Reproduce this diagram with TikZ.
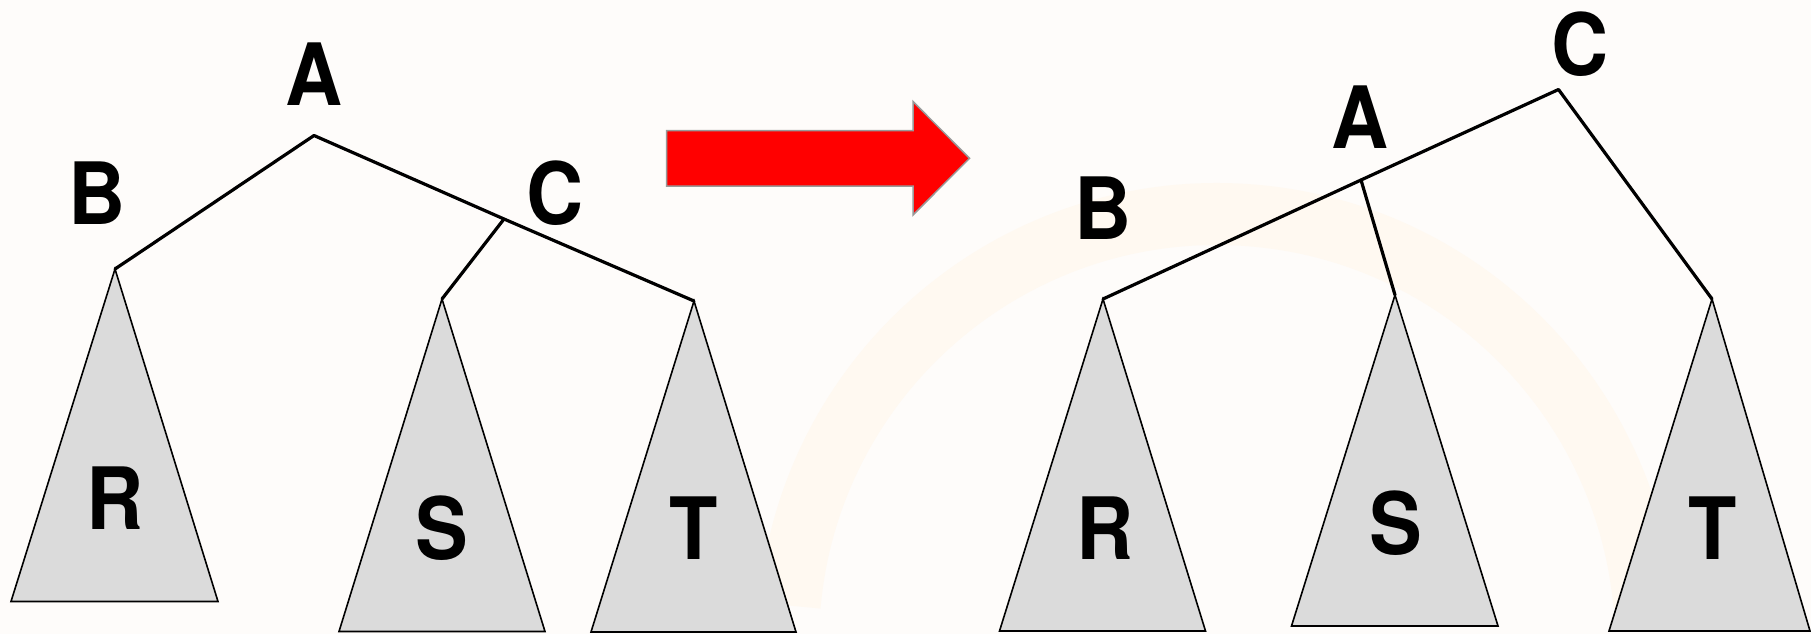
\documentclass[tikz,border=0pt]{standalone}
\usepackage{fontspec}
\setmainfont{Liberation Sans}
\newfontfamily\lblfont[FakeStretch=0.92]{TeX Gyre Heros}
\definecolor{bgc}{HTML}{FEFCFA}
\definecolor{arcc}{HTML}{FFF9F1}
\definecolor{trifill}{HTML}{DBDBDB}
\definecolor{arrowedge}{HTML}{999999}
\begin{document}
\begin{tikzpicture}[x=1pt,y=-1pt,
  lbl/.style={inner sep=0pt, font=\lblfont\fontsize{86}{86}\selectfont\bfseries},
  edge/.style={line width=3.2pt, line cap=round, line join=round},
  tri/.style={fill=trifill, draw=black, line width=1.6pt, line join=miter},
  bigarrow/.style={fill=red, draw=arrowedge, line width=1.5pt}]
\fill[bgc] (0,0) rectangle (1811,634);
\useasboundingbox (0,0) rectangle (1811,634);
% faint watermark arc
\draw[arcc, line width=62pt] (1217,643) ++(185:429) arc[start angle=185, end angle=355, radius=429];
% ---------- left tree ----------
\coordinate (lA) at (314,135.5);
\coordinate (lB) at (115,269);
\coordinate (lC) at (504,219);
\coordinate (lS) at (442,299);
\coordinate (lT) at (694,301);
\coordinate (lRl) at (11,601.5);
\coordinate (lRr) at (218,601.5);
\coordinate (lSl) at (339,631.5);
\coordinate (lSr) at (545,631.5);
\coordinate (lTl) at (591,632);
\coordinate (lTr) at (796,632);
\draw[tri] (lB) -- (lRr) -- (lRl) -- cycle;
\draw[tri] (lS) -- (lSr) -- (lSl) -- cycle;
\draw[tri] (lT) -- (lTr) -- (lTl) -- cycle;
\draw[edge] (lB) -- (lA) -- (lC) -- (lT);
\draw[edge] (lC) -- (lS);
\node[lbl] (lAlab) at (314,74) {A};
\node[lbl] (lBlab) at (97.5,193) {B};
\node[lbl] (lClab) at (555.5,193.5) {C};
\node[lbl] (lRlab) at (115.5,498) {R};
\node[lbl] (lSlab) at (441.5,528) {S};
\node[lbl] (lTlab) at (694,528.5) {T};
% ---------- arrow ----------
\draw[bigarrow] (666.5,130.5) -- (913,130.5) -- (913,101.5) -- (969.5,158.3)
  -- (913,215) -- (913,186) -- (666.5,186) -- cycle;
% ---------- right tree ----------
\coordinate (rC) at (1558.5,89.5);
\coordinate (rA) at (1361,180);
\coordinate (rB) at (1103,299);
\coordinate (rS) at (1395,295);
\coordinate (rT) at (1712,299);
\coordinate (rRl) at (999.5,631);
\coordinate (rRr) at (1205.5,631);
\coordinate (rSl) at (1291.5,626);
\coordinate (rSr) at (1498,626);
\coordinate (rTl) at (1609,631);
\coordinate (rTr) at (1810,631);
\draw[tri] (rB) -- (rRr) -- (rRl) -- cycle;
\draw[tri] (rS) -- (rSr) -- (rSl) -- cycle;
\draw[tri] (rT) -- (rTr) -- (rTl) -- cycle;
\draw[edge] (rB) -- (rA) -- (rC) -- (rT);
\draw[edge] (rA) -- (rS);
\node[lbl] (rClab) at (1580.5,44) {C};
\node[lbl] (rAlab) at (1360.5,117.5) {A};
\node[lbl] (rBlab) at (1103,208.5) {B};
\node[lbl] (rRlab) at (1105,528.5) {R};
\node[lbl] (rSlab) at (1395.5,523.5) {S};
\node[lbl] (rTlab) at (1713,528) {T};
\end{tikzpicture}
\end{document}
